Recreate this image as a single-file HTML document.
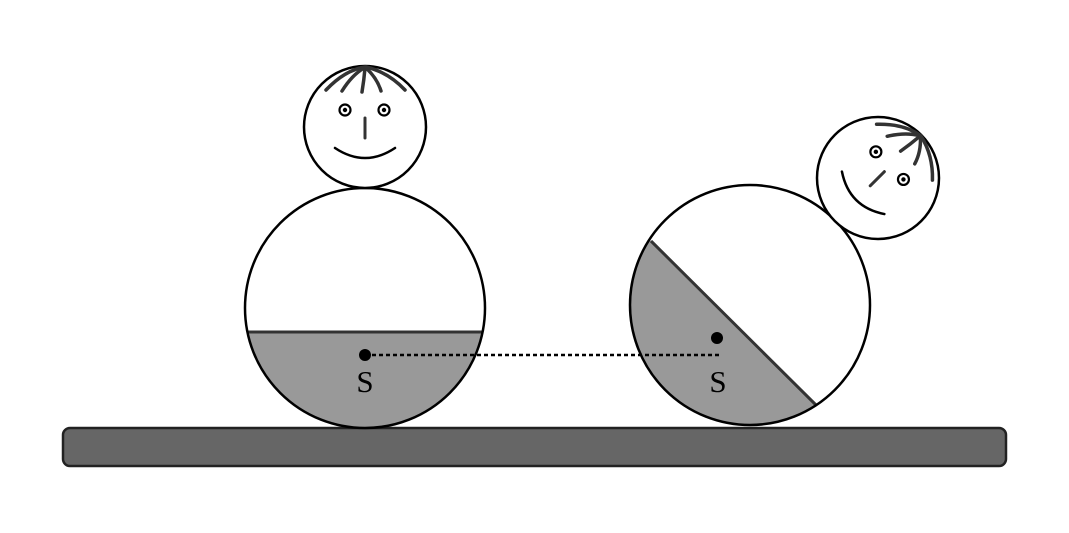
<!DOCTYPE html>
<html><head><meta charset="utf-8"><style>html,body{margin:0;padding:0;background:#fff}svg{display:block}</style></head>
<body>
<svg width="1069" height="533" viewBox="0 0 1069 533" xmlns="http://www.w3.org/2000/svg">
<defs>
<clipPath id="cl"><circle cx="365" cy="308" r="120"/></clipPath>
<clipPath id="cr"><circle cx="750" cy="305" r="120"/></clipPath>
</defs>
<rect x="63" y="428" width="943" height="38" rx="7" fill="#666" stroke="#222" stroke-width="2.5"/>

<g>
<circle cx="365" cy="308" r="120" fill="#fff"/>
<rect x="240" y="332" width="250" height="110" fill="#999" clip-path="url(#cl)"/>
<line x1="245" y1="332" x2="485" y2="332" stroke="#333" stroke-width="3" clip-path="url(#cl)"/>
<circle cx="365" cy="308" r="120" fill="none" stroke="#000" stroke-width="2.5"/>
<g>
<circle cx="365" cy="127" r="61" fill="#fff" stroke="#000" stroke-width="2.5"/>
<g fill="none" stroke="#333" stroke-width="3.5" stroke-linecap="round">
<path d="M326 90 Q345 70 365 67"/>
<path d="M342 91 Q352 75 364 68"/>
<path d="M362 92 Q364 80 365 68"/>
<path d="M381 91 Q377 78 366 68"/>
<path d="M405 90 Q388 72 366 67"/>
</g>
<circle cx="345" cy="110" r="5.5" fill="none" stroke="#000" stroke-width="2.2"/>
<circle cx="345" cy="110" r="2.2" fill="#000"/>
<circle cx="384" cy="110" r="5.5" fill="none" stroke="#000" stroke-width="2.2"/>
<circle cx="384" cy="110" r="2.2" fill="#000"/>
<line x1="365" y1="118" x2="365" y2="138" stroke="#333" stroke-width="3" stroke-linecap="round"/>
<path d="M335 148 Q365 168 395 148" fill="none" stroke="#000" stroke-width="2.5" stroke-linecap="round"/>
</g>
</g>

<g>
<circle cx="750" cy="305" r="120" fill="#fff"/>
<polygon points="651,241 816,405 880,470 600,470 600,200" fill="#999" clip-path="url(#cr)"/>
<line x1="651" y1="241" x2="816" y2="405" stroke="#333" stroke-width="3"/>
<circle cx="750" cy="305" r="120" fill="none" stroke="#000" stroke-width="2.5"/>
<g transform="translate(878 178) rotate(45) translate(-365 -127)">
<circle cx="365" cy="127" r="61" fill="#fff" stroke="#000" stroke-width="2.5"/>
<g fill="none" stroke="#333" stroke-width="3.5" stroke-linecap="round">
<path d="M326 90 Q345 70 365 67"/>
<path d="M342 91 Q352 75 364 68"/>
<path d="M362 92 Q364 80 365 68"/>
<path d="M381 91 Q377 78 366 68"/>
<path d="M405 90 Q388 72 366 67"/>
</g>
<circle cx="345" cy="110" r="5.5" fill="none" stroke="#000" stroke-width="2.2"/>
<circle cx="345" cy="110" r="2.2" fill="#000"/>
<circle cx="384" cy="110" r="5.5" fill="none" stroke="#000" stroke-width="2.2"/>
<circle cx="384" cy="110" r="2.2" fill="#000"/>
<line x1="365" y1="118" x2="365" y2="138" stroke="#333" stroke-width="3" stroke-linecap="round"/>
<path d="M335 148 Q365 168 395 148" fill="none" stroke="#000" stroke-width="2.5" stroke-linecap="round"/>
</g>
</g>

<line x1="365" y1="355" x2="721" y2="355" stroke="#000" stroke-width="2.5" stroke-dasharray="4 3"/>
<circle cx="365" cy="355" r="6" fill="#000"/>
<circle cx="717" cy="338" r="6" fill="#000"/>
<text x="365" y="392" font-family="Liberation Serif, serif" font-size="31" text-anchor="middle">S</text>
<text x="718" y="392" font-family="Liberation Serif, serif" font-size="31" text-anchor="middle">S</text>
</svg>
</body></html>
